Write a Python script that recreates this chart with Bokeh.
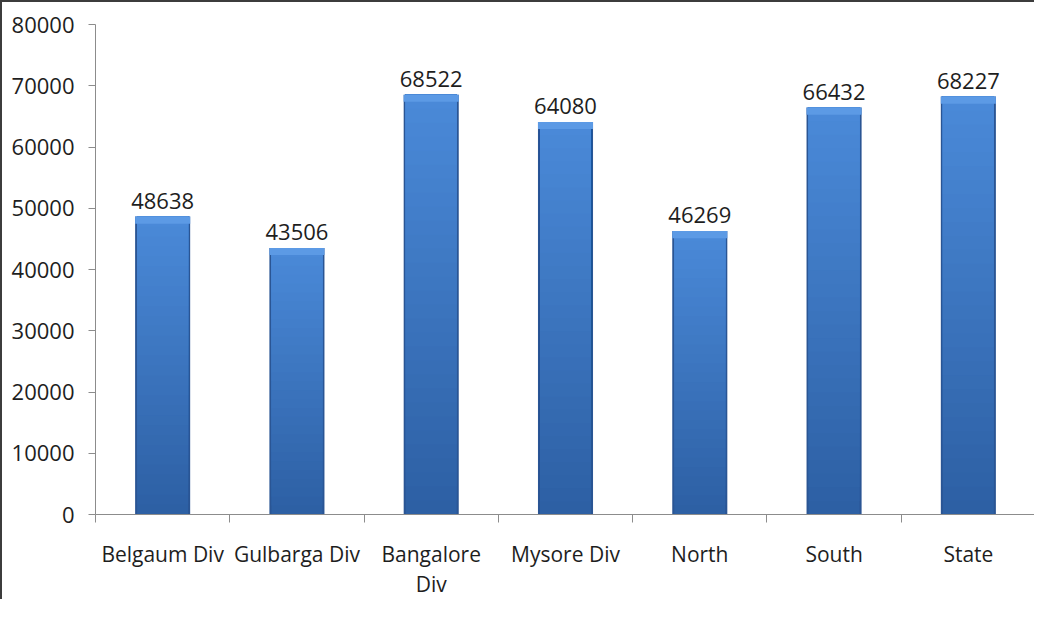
from bokeh.plotting import figure
from bokeh.models import FixedTicker, ColumnDataSource, Range1d
from bokeh.core.properties import value
from bokeh.embed import file_html
from bokeh.resources import INLINE

categories = ["Belgaum Div", "Gulbarga Div", "Bangalore\nDiv", "Mysore Div", "North", "South", "State"]
values = [48638, 43506, 68522, 64080, 46269, 66432, 68227]
y_ticks = [0, 10000, 20000, 30000, 40000, 50000, 60000, 70000, 80000]

FONT = "Open Sans"
TXT = "#1e1e1e"
x = [i + 0.5 for i in range(len(categories))]
src = ColumnDataSource(dict(x=x, top=values, cap=[v - 1150 for v in values],
                            lab=[str(v) for v in values]))

p = figure(width=1034, height=599, output_backend="svg", toolbar_location=None,
           x_range=Range1d(0, len(categories)), y_range=Range1d(0, 80000),
           min_border_left=93, min_border_right=1, min_border_top=22, min_border_bottom=60)
p.outline_line_color = None
p.grid.visible = False
p.styles = {"border-top": "2px solid #3c3c3c", "border-left": "2px solid #3c3c3c"}


def mix(c1, c2, t):
    a = [int(c1[i:i + 2], 16) for i in (1, 3, 5)]
    b = [int(c2[i:i + 2], 16) for i in (1, 3, 5)]
    return "#%02x%02x%02x" % tuple(round(a[i] + (b[i] - a[i]) * t) for i in range(3))


# bar body: dark outer edge, vertical gradient inside, light top bevel
p.vbar(x="x", top="top", width=0.41, source=src, fill_color="#2a5594", line_color=None)
n = 30
seg = dict(x=[], bottom=[], top=[], color=[])
for xi, v in zip(x, values):
    for k in range(n):
        seg["x"].append(xi)
        seg["bottom"].append(v * k / n)
        seg["top"].append(v)
        seg["color"].append(mix("#2d5fa3", "#4a8ad9", (k + 0.5) / n))
p.vbar(x="x", bottom="bottom", top="top", width=0.38, fill_color="color", line_color=None,
       source=ColumnDataSource(seg))
p.vbar(x="x", top="top", bottom="cap", width=0.41,
       fill_color="#5c9ae5", line_color=None, source=src)

p.text(x="x", y="top", text="lab", source=src, text_align="center", text_baseline="bottom",
       y_offset=-8, text_font=value(FONT), text_font_size="22px", text_color=TXT)

yax = p.yaxis[0]
yax.ticker = FixedTicker(ticks=y_ticks)
yax.axis_line_color = "#8c8c8c"
yax.major_tick_line_color = "#8c8c8c"
yax.major_tick_out = 7
yax.major_tick_in = 0
yax.minor_tick_line_color = None
yax.major_label_text_font = FONT
yax.major_label_text_font_size = "22px"
yax.major_label_text_color = TXT
yax.major_label_standoff = 14
yax.formatter.use_scientific = False

xax = p.xaxis[0]
xax.ticker = FixedTicker(ticks=x, minor_ticks=list(range(len(categories) + 1)))
xax.major_label_overrides = {v: c for v, c in zip(x, categories)}
xax.axis_line_color = "#8c8c8c"
xax.major_tick_line_color = None
xax.minor_tick_line_color = "#8c8c8c"
xax.minor_tick_out = 8
xax.minor_tick_in = 0
xax.major_label_text_font = FONT
xax.major_label_text_font_size = "21px"
xax.major_label_text_color = TXT
xax.major_label_text_line_height = 1.1
xax.major_label_standoff = 17

open("out.html", "w").write(file_html(p, INLINE))
